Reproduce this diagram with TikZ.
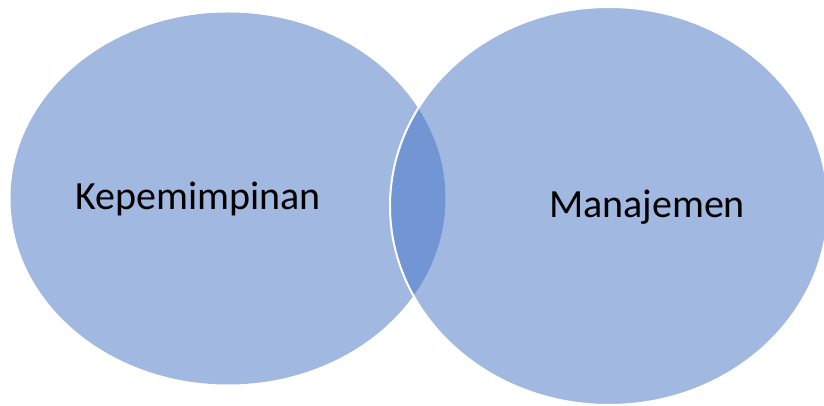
\documentclass[tikz,border=0pt]{standalone}
\usepackage{fontspec}
\setmainfont{Carlito}
\usetikzlibrary{shapes.geometric}

\begin{document}
\begin{tikzpicture}[
  x=1pt, y=1pt,
  circ/.style={ellipse, fill={rgb,255:red,68;green,114;blue,196}, fill opacity=0.5, inner sep=0pt},
  word/.style={anchor=base, font=\fontsize{40}{48}\selectfont, text=black}
]
  \useasboundingbox (0,0) rectangle (824,406);
  % deux ellipses qui se recouvrent au milieu
  \node[circ, minimum width=435pt, minimum height=372pt] (lead) at (228,207.5) {};
  \node[circ, draw=white, line width=2pt, minimum width=438pt, minimum height=398pt] (mgmt) at (609,200) {};

  \node[word] (leadtext) at (198,196) {Kepemimpinan};
  \node[word] (mgmttext) at (647,188) {Manajemen};
\end{tikzpicture}
\end{document}
